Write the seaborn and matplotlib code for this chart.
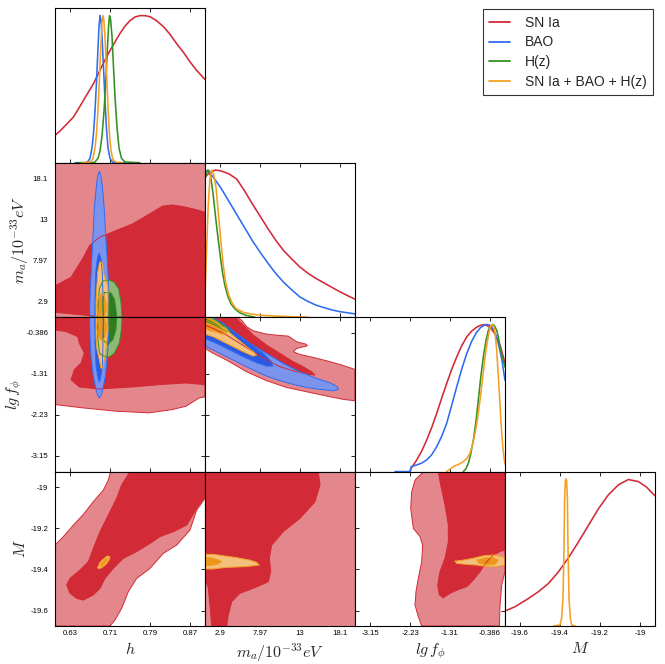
import matplotlib
matplotlib.use("Agg")
import matplotlib.pyplot as plt
from matplotlib.lines import Line2D
import seaborn as sns

sns.set_theme(style="ticks")
plt.rcParams["font.family"] = ["Liberation Sans", "DejaVu Sans"]
plt.rcParams["mathtext.fontset"] = "cm"

# ---------------- parameters / axes ----------------
PARAMS = ["h", "ma", "lgf", "M"]
AXIS_LABELS = [r"$h$", r"$m_a/10^{-33}eV$", r"$lg\,f_{\phi}$", r"$M$"]
LIMITS = [(0.6, 0.9), (1.0, 20.0), (-3.5, -0.04), (-19.675, -18.925)]
TICKS = [[0.63, 0.71, 0.79, 0.87], [2.9, 7.97, 13, 18.1],
         [-3.15, -2.23, -1.31, -0.386], [-19.6, -19.4, -19.2, -19]]
TICK_LABELS = [["0.63", "0.71", "0.79", "0.87"], ["2.9", "7.97", "13", "18.1"],
               ["-3.15", "-2.23", "-1.31", "-0.386"], ["-19.6", "-19.4", "-19.2", "-19"]]
SERIES = ["SN Ia", "BAO", "H(z)", "SN Ia + BAO + H(z)"]

# ---------------- 1D marginals ----------------
H_SN_x = [0.600, 0.610, 0.623, 0.637, 0.650, 0.663, 0.677, 0.690, 0.703, 0.717, 0.730, 0.740, 0.750,
          0.760, 0.770, 0.780, 0.790, 0.803, 0.817, 0.830, 0.843, 0.857, 0.870, 0.883, 0.900]
H_SN_y = [0.186, 0.216, 0.261, 0.311, 0.384, 0.459, 0.538, 0.629, 0.720, 0.804, 0.879, 0.929, 0.966,
          0.991, 1.000, 1.000, 0.993, 0.966, 0.925, 0.873, 0.811, 0.750, 0.686, 0.629, 0.566]
H_BAO_x = [0.640, 0.660, 0.665, 0.670, 0.674, 0.677, 0.680, 0.683, 0.686, 0.688, 0.690, 0.692, 0.694,
           0.697, 0.700, 0.703, 0.706, 0.710, 0.715, 0.725, 0.740]
H_BAO_y = [0.0, 0.0, 0.005, 0.03, 0.10, 0.20, 0.35, 0.55, 0.78, 0.93, 1.0, 0.97, 0.86,
           0.65, 0.42, 0.23, 0.10, 0.03, 0.005, 0.0, 0.0]
H_HZ_x = [0.645, 0.675, 0.680, 0.686, 0.690, 0.694, 0.698, 0.701, 0.704, 0.707, 0.709, 0.711, 0.714,
          0.717, 0.720, 0.724, 0.728, 0.733, 0.740, 0.770]
H_HZ_y = [0.0, 0.0, 0.005, 0.03, 0.08, 0.18, 0.35, 0.52, 0.72, 0.92, 1.0, 0.98, 0.86,
          0.65, 0.45, 0.24, 0.10, 0.03, 0.005, 0.0]
H_ALL_x = [0.655, 0.671, 0.676, 0.680, 0.683, 0.686, 0.689, 0.692, 0.694, 0.696, 0.698, 0.700, 0.703,
           0.706, 0.709, 0.712, 0.716, 0.722, 0.735]
H_ALL_y = [0.0, 0.005, 0.03, 0.10, 0.20, 0.36, 0.58, 0.82, 0.95, 1.0, 0.96, 0.85, 0.62,
           0.38, 0.19, 0.08, 0.02, 0.003, 0.0]

MA_SN_x = [1.0, 1.5, 2.3, 3.0, 4.0, 5.0, 6.0, 7.0, 8.0, 9.0, 10.0, 11.0, 12.0, 13.0, 14.0,
           15.0, 16.0, 17.0, 18.0, 19.0, 20.0]
MA_SN_y = [0.95, 0.98, 1.0, 0.995, 0.975, 0.94, 0.86, 0.77, 0.685, 0.60, 0.52, 0.45, 0.395, 0.342, 0.30,
           0.265, 0.235, 0.205, 0.175, 0.148, 0.122]
MA_BAO_x = [1.0, 1.3, 2.0, 3.0, 4.0, 5.0, 6.0, 7.0, 8.0, 9.0, 10.0, 11.0, 12.0, 13.0, 14.0,
            15.0, 16.0, 17.0, 18.0, 19.0, 20.0]
MA_BAO_y = [0.97, 1.0, 0.955, 0.88, 0.79, 0.70, 0.61, 0.52, 0.44, 0.365, 0.295, 0.235, 0.185, 0.138, 0.108,
            0.083, 0.066, 0.05, 0.038, 0.03, 0.022]
MA_HZ_x = [1.0, 1.2, 1.45, 1.7, 2.0, 2.3, 2.6, 2.9, 3.2, 3.5, 3.9, 4.3, 4.8, 5.4, 6.2, 7.3]
MA_HZ_y = [0.94, 0.985, 1.0, 0.96, 0.85, 0.70, 0.56, 0.43, 0.31, 0.22, 0.14, 0.09, 0.055, 0.03, 0.012, 0.0]
MA_ALL_x = [1.0, 1.2, 1.4, 1.6, 1.85, 2.1, 2.4, 2.7, 3.0, 3.3, 3.6, 4.0, 4.5, 5.0, 6.0, 7.0, 8.0,
            10.0, 12.0, 14.0]
MA_ALL_y = [0.15, 0.45, 0.75, 0.93, 1.0, 0.97, 0.88, 0.70, 0.52, 0.36, 0.24, 0.15, 0.09, 0.055, 0.03,
            0.02, 0.013, 0.007, 0.003, 0.0]

LGF_SN_x = [-2.231, -2.2, -2.15, -2.077, -1.96, -1.846, -1.73, -1.615, -1.5, -1.385, -1.27, -1.154,
            -1.04, -0.923, -0.81, -0.693, -0.6, -0.5, -0.386, -0.27, -0.155, -0.04]
LGF_SN_y = [0.0, 0.025, 0.045, 0.079, 0.14, 0.215, 0.30, 0.396, 0.50, 0.599, 0.695, 0.779,
            0.855, 0.915, 0.955, 0.982, 0.995, 1.0, 0.98, 0.937, 0.86, 0.74]
LGF_BAO_x = [-2.577, -2.231, -2.2, -2.077, -1.96, -1.846, -1.73, -1.615, -1.5, -1.385, -1.27, -1.154,
             -1.04, -0.923, -0.81, -0.693, -0.6, -0.5, -0.46, -0.42, -0.386, -0.35, -0.293, -0.193,
             -0.116, -0.04]
LGF_BAO_y = [0.0, 0.0, 0.034, 0.045, 0.058, 0.079, 0.115, 0.169, 0.24, 0.328, 0.45, 0.576,
             0.695, 0.802, 0.885, 0.948, 0.98, 0.998, 1.0, 0.998, 0.994, 0.985, 0.96, 0.87,
             0.768, 0.62]
LGF_HZ_x = [-1.0, -0.94, -0.885, -0.83, -0.77, -0.71, -0.655, -0.6, -0.54, -0.48, -0.424, -0.37,
            -0.324, -0.28, -0.231, -0.19, -0.155, -0.1, -0.04]
LGF_HZ_y = [0.0, 0.02, 0.057, 0.12, 0.215, 0.34, 0.486, 0.64, 0.779, 0.89, 0.96, 0.99,
            1.0, 0.99, 0.96, 0.91, 0.847, 0.78, 0.71]
LGF_ALL_x = [-1.385, -1.231, -1.1, -1.0, -0.92, -0.847, -0.79, -0.732, -0.674, -0.616, -0.558, -0.5,
             -0.45, -0.401, -0.37, -0.347, -0.32, -0.293, -0.262, -0.231, -0.2, -0.17, -0.143,
             -0.116, -0.085, -0.056, -0.04]
LGF_ALL_y = [0.0, 0.034, 0.05, 0.068, 0.09, 0.125, 0.18, 0.26, 0.36, 0.486, 0.63, 0.779,
             0.88, 0.96, 0.99, 1.0, 0.995, 0.982, 0.92, 0.824, 0.68, 0.531, 0.39,
             0.26, 0.15, 0.079, 0.05]

M_SN_x = [-19.675, -19.625, -19.558, -19.508, -19.458, -19.408, -19.358, -19.308, -19.258, -19.208,
          -19.158, -19.108, -19.058, -19.008, -18.967, -18.925]
M_SN_y = [0.102, 0.131, 0.187, 0.233, 0.289, 0.368, 0.463, 0.571, 0.684, 0.797,
          0.892, 0.960, 0.996, 0.982, 0.944, 0.885]
M_ALL_x = [-19.433, -19.400, -19.392, -19.385, -19.380, -19.377, -19.373, -19.370, -19.367, -19.363,
           -19.360, -19.355, -19.348, -19.342, -19.325]
M_ALL_y = [0.0, 0.007, 0.052, 0.188, 0.526, 0.865, 0.989, 1.0, 0.989, 0.865,
           0.526, 0.188, 0.052, 0.007, 0.0]

# ---------------- 2D contours (68% / 95% regions) ----------------
# h - m_a
HMA_SN95 = [(0.6, 1.0), (0.9, 1.0), (0.9, 20.0), (0.6, 20.0)]
HMA_SN68 = [(0.6, 4.87), (0.632, 5.9), (0.655, 8.16), (0.669, 9.8), (0.689, 10.83), (0.722, 11.65),
            (0.755, 12.47), (0.789, 13.7), (0.815, 14.65), (0.835, 14.81), (0.862, 14.53),
            (0.889, 14.12), (0.9, 13.91), (0.9, 1.0), (0.7, 1.0), (0.65, 1.3), (0.6, 1.6)]
HMA_BAO95 = [(0.6887, 18.95), (0.6855, 18.4), (0.6834, 17.5), (0.681, 16.0), (0.6787, 14.3),
             (0.677, 12.3), (0.6754, 10.2), (0.6735, 8.1), (0.672, 6.1), (0.6705, 4.2),
             (0.6697, 2.5), (0.6694, 1.0), (0.7087, 1.0), (0.7083, 2.5), (0.7075, 4.2),
             (0.7062, 6.1), (0.7045, 8.1), (0.7022, 10.2), (0.7003, 12.3), (0.6985, 14.3),
             (0.6962, 16.0), (0.6938, 17.5), (0.6917, 18.4)]
HMA_BAO68 = [(0.6884, 8.85), (0.6855, 8.4), (0.6834, 7.7), (0.6815, 6.5), (0.6807, 5.3), (0.6801, 3.2),
             (0.6794, 1.0), (0.6967, 1.0), (0.696, 3.2), (0.6952, 5.3), (0.6945, 6.5), (0.693, 7.7),
             (0.6912, 8.4)]
HMA_HZ95 = [(0.6854, 1.0), (0.686, 2.8), (0.6887, 4.46), (0.6954, 5.45), (0.7087, 5.57),
            (0.7187, 5.28), (0.7274, 4.46), (0.732, 2.8), (0.734, 1.0)]
HMA_HZ68 = [(0.6967, 1.0), (0.6954, 2.8), (0.6987, 4.05), (0.712, 3.97), (0.7187, 3.23),
            (0.722, 2.0), (0.7234, 1.0)]
HMA_ALL95 = [(0.6887, 7.54), (0.6907, 7.83), (0.6954, 7.54), (0.6967, 6.51), (0.7007, 5.69),
             (0.7054, 4.87), (0.706, 3.23), (0.7054, 1.0), (0.682, 1.0), (0.682, 2.82),
             (0.6834, 4.46), (0.6854, 6.51)]
HMA_ALL68 = [(0.6934, 3.85), (0.6987, 3.6), (0.7027, 2.6), (0.702, 1.6), (0.699, 1.0), (0.688, 1.0),
             (0.6847, 1.6), (0.684, 2.6), (0.6874, 3.6)]

# h - lg f
HLF_SN95 = [(0.6, -0.04), (0.9, -0.04), (0.9, -1.827), (0.8887, -1.849), (0.862, -2.035),
            (0.8354, -2.109), (0.7887, -2.184), (0.722, -2.147), (0.6554, -2.072), (0.6, -1.998)]
HLF_SN68 = [(0.6, -0.04), (0.9, -0.04), (0.9, -1.552), (0.862, -1.515), (0.809, -1.552),
            (0.7554, -1.604), (0.6887, -1.649), (0.6487, -1.604), (0.632, -1.441), (0.6387, -1.218),
            (0.652, -1.069), (0.6587, -0.846), (0.6487, -0.623), (0.6454, -0.475), (0.622, -0.363),
            (0.6, -0.326)]
HLF_BAO95 = [(0.6694, -0.04), (0.67, -0.475), (0.672, -0.92), (0.6767, -1.366), (0.682, -1.663),
             (0.685, -1.78), (0.6887, -1.849), (0.6925, -1.78), (0.6954, -1.663), (0.7007, -1.366),
             (0.7047, -0.92), (0.7074, -0.475), (0.7087, -0.04)]
HLF_BAO68 = [(0.6794, -0.04), (0.68, -0.623), (0.682, -1.143), (0.6867, -1.441), (0.6887, -1.493),
             (0.6907, -1.441), (0.6947, -1.143), (0.696, -0.623), (0.6967, -0.04)]
HLF_HZ95 = [(0.6854, -0.04), (0.6854, -0.475), (0.6887, -0.846), (0.695, -0.9), (0.7087, -0.935),
            (0.7187, -0.846), (0.7287, -0.623), (0.7327, -0.326), (0.734, -0.04)]
HLF_HZ68 = [(0.6967, -0.04), (0.6967, -0.549), (0.7054, -0.661), (0.7154, -0.549), (0.722, -0.326),
            (0.7234, -0.04)]
HLF_ALL95 = [(0.682, -0.04), (0.682, -0.475), (0.684, -0.772), (0.6887, -0.995), (0.692, -1.181),
             (0.6954, -1.181), (0.6987, -0.995), (0.7007, -0.846), (0.7034, -0.623), (0.706, -0.326),
             (0.7054, -0.04)]
HLF_ALL68 = [(0.688, -0.04), (0.699, -0.04), (0.7034, -0.2), (0.7034, -0.3), (0.7007, -0.475),
             (0.694, -0.586), (0.6874, -0.475), (0.6834, -0.3), (0.6834, -0.2)]

# m_a - lg f
MLF_SN95 = [(1.0, -0.04), (5.01, -0.04), (5.64, -0.107), (6.28, -0.256), (7.12, -0.346), (8.81, -0.421),
            (10.5, -0.451), (11.55, -0.465), (12.61, -0.592), (13.79, -0.645), (13.96, -0.682),
            (12.61, -0.742), (12.19, -0.816), (13.03, -0.876), (14.72, -0.943), (16.41, -1.018),
            (18.1, -1.1), (20.0, -1.212), (20.0, -1.913), (18.52, -1.883), (16.41, -1.808),
            (13.88, -1.712), (11.34, -1.615), (8.81, -1.465), (6.28, -1.264), (3.74, -1.003),
            (2.06, -0.853), (1.0, -0.742)]
MLF_SN68 = [(1.0, -0.04), (4.8, -0.04), (5.86, -0.219), (7.12, -0.443), (8.81, -0.667), (10.5, -0.853),
            (12.19, -1.04), (13.45, -1.152), (14.51, -1.264), (14.93, -1.338), (13.88, -1.316),
            (12.19, -1.241), (10.5, -1.152), (8.81, -1.003), (7.12, -0.816), (5.43, -0.63),
            (3.74, -0.443), (2.06, -0.294), (1.0, -0.219)]
MLF_BAO95 = [(1.0, -0.04), (1.84, -0.04), (2.9, -0.145), (4.59, -0.368), (6.7, -0.63), (8.81, -0.853),
             (10.92, -1.077), (13.03, -1.264), (15.14, -1.413), (16.83, -1.51), (17.76, -1.6),
             (17.89, -1.659), (17.26, -1.689), (15.57, -1.659), (13.88, -1.615), (12.19, -1.547),
             (10.5, -1.465), (8.81, -1.361), (7.12, -1.227), (5.43, -1.077), (3.74, -0.928),
             (2.06, -0.779), (1.0, -0.689)]
MLF_BAO68 = [(1.0, -0.04), (1.84, -0.04), (3.32, -0.182), (5.01, -0.406), (6.7, -0.63), (8.39, -0.853),
             (9.44, -1.04), (9.57, -1.137), (8.81, -1.137), (7.54, -1.062), (5.86, -0.928),
             (4.17, -0.779), (2.48, -0.63), (1.0, -0.518)]
MLF_HZ95 = [(1.0, -0.04), (1.63, -0.04), (2.69, -0.145), (3.74, -0.271), (4.25, -0.368), (3.74, -0.353),
            (2.69, -0.256), (1.63, -0.167), (1.0, -0.122)]
MLF_HZ68 = [(1.0, -0.04), (1.3, -0.04), (2.27, -0.13), (3.32, -0.256), (2.9, -0.241), (1.84, -0.145),
            (1.0, -0.077)]
MLF_ALL95 = [(1.0, -0.04), (1.42, -0.04), (2.48, -0.145), (3.74, -0.331), (5.01, -0.518), (6.28, -0.704),
             (7.12, -0.816), (7.54, -0.891), (7.12, -0.913), (5.86, -0.816), (4.59, -0.704),
             (3.32, -0.592), (2.06, -0.48), (1.0, -0.421)]
MLF_ALL68 = [(1.0, -0.06), (1.63, -0.07), (2.48, -0.182), (3.53, -0.331), (3.74, -0.406), (3.11, -0.421),
             (2.27, -0.368), (1.42, -0.331), (1.0, -0.294)]

# h - M
HM_SN95 = [(0.6, -19.282), (0.6167, -19.241), (0.6367, -19.185), (0.6567, -19.133), (0.6767, -19.071),
           (0.6967, -19.015), (0.7067, -18.966), (0.7113, -18.925), (0.9, -18.925), (0.9, -19.055),
           (0.8833, -19.112), (0.87, -19.209), (0.8433, -19.282), (0.8167, -19.322), (0.79, -19.395),
           (0.7633, -19.444), (0.7467, -19.508), (0.7333, -19.589), (0.72, -19.646), (0.71, -19.675),
           (0.6, -19.675)]
HM_SN68 = [(0.75, -18.925), (0.9, -18.925), (0.9, -19.047), (0.8833, -19.104), (0.8633, -19.185),
           (0.8367, -19.217), (0.81, -19.241), (0.79, -19.274), (0.7633, -19.314), (0.7367, -19.346),
           (0.7167, -19.395), (0.70, -19.444), (0.69, -19.492), (0.6767, -19.524), (0.6567, -19.549),
           (0.6433, -19.541), (0.63, -19.516), (0.6233, -19.476), (0.63, -19.444), (0.65, -19.403),
           (0.6667, -19.363), (0.6767, -19.298), (0.69, -19.217), (0.7067, -19.136), (0.7233, -19.055),
           (0.7333, -18.99)]
HM_ALL95 = [(0.6853, -19.392), (0.6867, -19.385), (0.69, -19.366), (0.6967, -19.35), (0.7047, -19.335),
            (0.71, -19.338), (0.708, -19.355), (0.702, -19.376), (0.6933, -19.392), (0.688, -19.396)]
HM_ALL68 = [(0.69, -19.382), (0.6933, -19.368), (0.7, -19.352), (0.7067, -19.343), (0.7053, -19.355),
            (0.7, -19.371), (0.6933, -19.386)]

# m_a - M
MM_SN95 = [(1.0, -19.675), (20.0, -19.675), (20.0, -18.925), (1.0, -18.925)]
MM_SN68 = [(1.0, -18.925), (15.35, -18.925), (15.57, -18.99), (14.93, -19.072), (13.03, -19.152),
           (10.92, -19.217), (9.45, -19.282), (9.15, -19.346), (9.32, -19.411), (9.02, -19.46),
           (7.12, -19.492), (5.43, -19.516), (4.38, -19.557), (3.95, -19.622), (3.75, -19.675),
           (1.85, -19.675), (1.63, -19.573), (1.42, -19.492), (1.0, -19.443)]
MM_ALL95 = [(1.0, -19.327), (2.06, -19.327), (3.32, -19.334), (5.01, -19.343), (6.7, -19.355),
            (7.55, -19.366), (7.88, -19.379), (7.33, -19.382), (5.86, -19.387), (4.59, -19.389),
            (3.32, -19.392), (2.06, -19.398), (1.0, -19.398)]
MM_ALL68 = [(1.0, -19.339), (2.06, -19.345), (2.8, -19.355), (3.11, -19.363), (2.8, -19.372),
            (2.06, -19.379), (1.0, -19.384)]

# lg f - M
LM_SN95 = [(-1.885, -18.925), (-0.04, -18.925), (-0.04, -19.411), (-0.116, -19.476), (-0.155, -19.573),
           (-0.17, -19.675), (-1.962, -19.675), (-2.039, -19.63), (-2.116, -19.573), (-2.093, -19.508),
           (-2.039, -19.443), (-1.962, -19.363), (-1.939, -19.282), (-2.0, -19.241), (-2.154, -19.201),
           (-2.215, -19.104), (-2.192, -19.023), (-2.116, -18.966), (-1.962, -18.934)]
LM_SN68 = [(-1.578, -18.925), (-0.04, -18.925), (-0.04, -19.306), (-0.155, -19.314), (-0.309, -19.33),
           (-0.462, -19.363), (-0.616, -19.411), (-0.77, -19.452), (-0.923, -19.484), (-1.078, -19.495),
           (-1.308, -19.516), (-1.462, -19.538), (-1.555, -19.524), (-1.593, -19.476), (-1.539, -19.411),
           (-1.424, -19.346), (-1.347, -19.266), (-1.347, -19.185), (-1.424, -19.088), (-1.524, -18.99)]
LM_ALL95 = [(-1.193, -19.36), (-1.001, -19.355), (-0.77, -19.346), (-0.539, -19.334), (-0.309, -19.33),
            (-0.078, -19.339), (-0.04, -19.346), (-0.04, -19.379), (-0.231, -19.387), (-0.462, -19.387),
            (-0.693, -19.379), (-0.923, -19.376), (-1.155, -19.371)]
LM_ALL68 = [(-0.693, -19.355), (-0.501, -19.343), (-0.309, -19.343), (-0.193, -19.355), (-0.27, -19.376),
            (-0.462, -19.379), (-0.632, -19.371)]

# ---------------- styles ----------------
LINE_COLORS = ["#d22a36", "#2e6cf2", "#35901f", "#f4a020"]
FILL68 = ["#d22a36", "#2a5ae6", "#2d7d1e", "#ec961e"]
FILL95 = ["#e3878c", "#7a94ee", "#8cb978", "#f4c07d"]

ONE_D = {
    0: [(H_SN_x, H_SN_y, 0), (H_BAO_x, H_BAO_y, 1), (H_HZ_x, H_HZ_y, 2), (H_ALL_x, H_ALL_y, 3)],
    1: [(MA_SN_x, MA_SN_y, 0), (MA_BAO_x, MA_BAO_y, 1), (MA_HZ_x, MA_HZ_y, 2), (MA_ALL_x, MA_ALL_y, 3)],
    2: [(LGF_SN_x, LGF_SN_y, 0), (LGF_BAO_x, LGF_BAO_y, 1), (LGF_HZ_x, LGF_HZ_y, 2),
        (LGF_ALL_x, LGF_ALL_y, 3)],
    3: [(M_SN_x, M_SN_y, 0), (M_ALL_x, M_ALL_y, 3)],
}
TWO_D = {
    (1, 0): [(HMA_SN95, HMA_SN68, 0), (HMA_BAO95, HMA_BAO68, 1), (HMA_HZ95, HMA_HZ68, 2),
             (HMA_ALL95, HMA_ALL68, 3)],
    (2, 0): [(HLF_SN95, HLF_SN68, 0), (HLF_BAO95, HLF_BAO68, 1), (HLF_HZ95, HLF_HZ68, 2),
             (HLF_ALL95, HLF_ALL68, 3)],
    (2, 1): [(MLF_SN95, MLF_SN68, 0), (MLF_BAO95, MLF_BAO68, 1), (MLF_HZ95, MLF_HZ68, 2),
             (MLF_ALL95, MLF_ALL68, 3)],
    (3, 0): [(HM_SN95, HM_SN68, 0), (HM_ALL95, HM_ALL68, 3)],
    (3, 1): [(MM_SN95, MM_SN68, 0), (MM_ALL95, MM_ALL68, 3)],
    (3, 2): [(LM_SN95, LM_SN68, 0), (LM_ALL95, LM_ALL68, 3)],
}


def draw_region(ax, poly, fill, edge):
    xs = [p[0] for p in poly] + [poly[0][0]]
    ys = [p[1] for p in poly] + [poly[0][1]]
    ax.fill(xs, ys, color=fill, lw=0)
    ax.plot(xs, ys, color=edge, lw=0.7, solid_joinstyle="round")


fig, axes = plt.subplots(4, 4, figsize=(6.65, 6.64), dpi=100)
fig.subplots_adjust(left=55 / 665, right=655 / 665, bottom=1 - 626 / 664, top=1 - 8.3 / 664,
                    wspace=0, hspace=0)

for r in range(4):
    for c in range(4):
        ax = axes[r][c]
        if c > r:
            ax.set_visible(False)
            continue
        ax.set_facecolor("white")
        ax.set_xlim(LIMITS[c])
        if r == c:
            ax.set_ylim(0, 1.05)
            for xs, ys, k in ONE_D[r]:
                sns.lineplot(x=xs, y=ys, ax=ax, color=LINE_COLORS[k], lw=1.15,
                             sort=False, estimator=None, legend=False)
            ax.set_yticks([])
            ax.tick_params(axis="x", direction="in", length=3, width=0.6, top=True, bottom=True,
                           labelsize=5.6, pad=3, colors="black")
        else:
            ax.set_ylim(LIMITS[r])
            for outer, inner, k in TWO_D[(r, c)]:
                draw_region(ax, outer, FILL95[k], LINE_COLORS[k])
                draw_region(ax, inner, FILL68[k], LINE_COLORS[k])
            ax.set_yticks(TICKS[r])
            ax.tick_params(axis="both", direction="in", length=3, width=0.6, top=True, bottom=True,
                           left=True, right=True, labelsize=5.6, colors="black")
            ax.tick_params(axis="x", pad=3)
            ax.tick_params(axis="y", pad=5)
        ax.set_xticks(TICKS[c])
        ax.set_xlim(LIMITS[c])
        ax.set_xlabel("")
        ax.set_ylabel("")
        if r == 3:
            ax.set_xticklabels(TICK_LABELS[c])
            ax.set_xlabel(AXIS_LABELS[c], fontsize=11.5, labelpad=3)
        else:
            ax.set_xticklabels([])
        if c == 0 and r > 0:
            ax.set_yticklabels(TICK_LABELS[r])
            ax.set_ylabel(AXIS_LABELS[r], fontsize=11.5, labelpad=1.5)
        elif r != c:
            ax.set_yticklabels([])
        for sp in ax.spines.values():
            sp.set_color("black")
            sp.set_linewidth(0.8)
            sp.set_visible(True)
            sp.set_zorder(5)

handles = [Line2D([0], [0], color=LINE_COLORS[k], lw=1.3) for k in range(4)]
leg = fig.legend(handles, SERIES, loc="upper right", bbox_to_anchor=(653 / 665, 1 - 9.3 / 664),
                 bbox_transform=fig.transFigure, borderaxespad=0, fontsize=10, frameon=True,
                 fancybox=False, edgecolor="black", handlelength=1.5, handletextpad=1.1,
                 labelspacing=0.42, borderpad=0.45)
leg.get_frame().set_linewidth(0.8)

fig.savefig("out.png", dpi=100)
